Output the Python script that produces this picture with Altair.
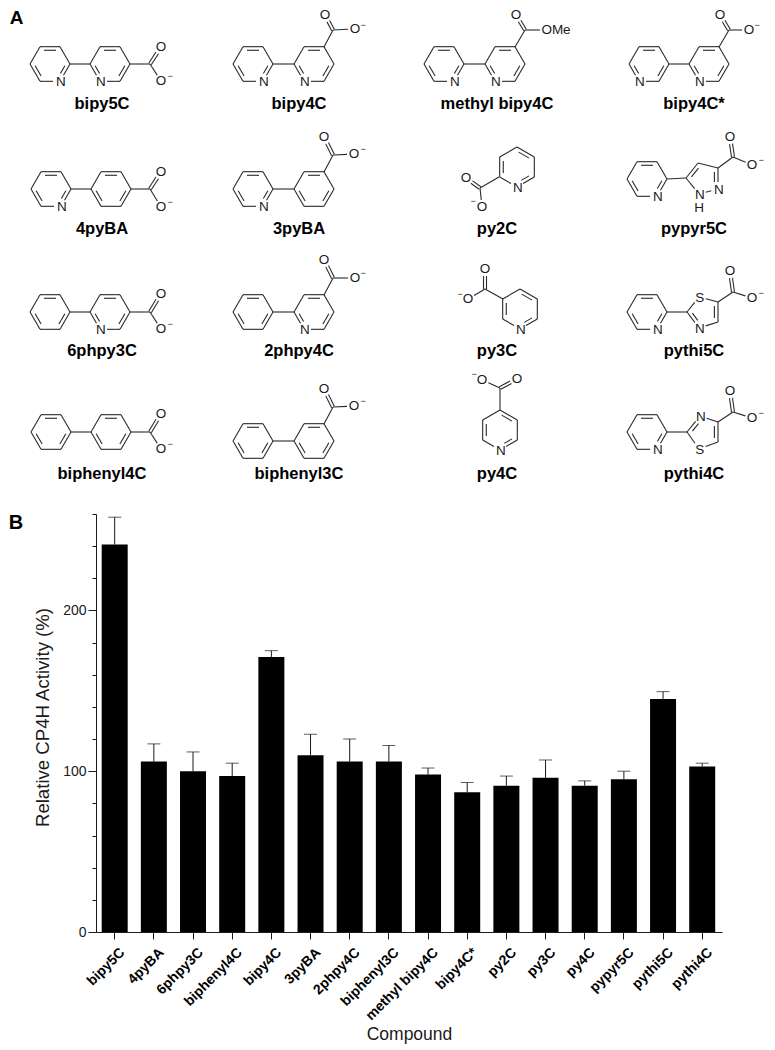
import math
import altair as alt
import pandas as pd

compounds = ["bipy5C", "4pyBA", "6phpy3C", "biphenyl4C", "bipy4C", "3pyBA", "2phpy4C", "biphenyl3C",
             "methyl bipy4C", "bipy4C*", "py2C", "py3C", "py4C", "pypyr5C", "pythi5C", "pythi4C"]
activity = [241, 106, 100, 97, 171, 110, 106, 106, 98, 87, 91, 96, 91, 95, 145, 103]
err_top = [258, 117, 112, 105, 175, 123, 120, 116, 102, 93, 97, 107, 94, 100, 149.5, 105]

FONT = "Liberation Sans"
INK = "#1a1a1a"
R = 20.0

# structure layouts: hexagons (cx, cy, hetero vertex or None, rotation)
hexes = [
    (50, 64, 1, 0), (110, 64, 2, 0), (253, 64, 1, 0), (314, 64, 2, 0),
    (444, 64, 1, 0), (505, 64, 2, 0), (649, 64, 2, 0), (709, 64, 2, 0),
    (51, 189, 1, 0), (111, 189, None, 0), (253, 189, 1, 0), (314, 189, None, 0),
    (517, 167, 1, 30), (647, 179, 1, 0),
    (50, 312, None, 0), (110, 312, 2, 0), (253, 312, None, 0), (314, 312, 2, 0),
    (520, 309, 1, 30), (647, 312, 1, 0),
    (51, 432, None, 0), (111, 432, None, 0), (253, 441, None, 0), (314, 441, None, 0),
    (500, 430, 1, 30), (647, 432, 1, 0),
]
# five-membered rings: vertices, double-bond start indices, hetero labels {index: text}
pentas = [
    ([(686, 178), (698, 163), (718, 168), (718, 189), (699, 194)], [0, 2], {3: "N", 4: "N"}),
    ([(687, 312), (699, 297), (718, 302), (718, 322), (699, 328)], [2, 4], {1: "S", 4: "N"}),
    ([(687, 432), (700, 416), (718, 422), (718, 442), (699, 449)], [0, 2], {1: "N", 4: "S"}),
]
# single bonds between rings and from a ring to a carboxyl carbon
links = [
    (70, 64, 90, 64), (273, 64, 294, 64), (464, 64, 485, 64), (669, 64, 689, 64),
    (71, 189, 91, 189), (273, 189, 294, 189), (667, 179, 686, 178),
    (70, 312, 90, 312), (273, 312, 294, 312), (667, 312, 687, 312),
    (71, 432, 91, 432), (273, 441, 294, 441), (667, 432, 687, 432),
    (130, 64, 150, 64), (324, 47, 333, 30), (515, 47, 525, 30), (719, 47, 729, 30),
    (131, 189, 150, 189), (324, 172, 333, 155), (499, 177, 480, 188), (718, 168, 733, 157),
    (130, 312, 150, 312), (324, 295, 333, 278), (503, 299, 485, 289), (718, 302, 733, 292),
    (131, 432, 150, 432), (324, 424, 333, 407), (500, 410, 500, 388), (718, 422, 733, 412),
]
# carboxyl groups: C, =O, -O, minus sign, second-oxygen text
carboxyls = [
    (150, 64, 161, 47, 161, 81, 170, 76), (333, 30, 325, 15, 355, 29, 363, 25),
    (525, 30, 516, 15, 541, 30, None, None), (729, 30, 720, 15, 749, 30, 757, 25),
    (150, 189, 161, 172, 161, 207, 170, 202), (333, 155, 324, 137, 354, 154, 363, 149),
    (480, 188, 466, 178, 482, 207, 473, 201), (733, 157, 730, 137, 752, 165, 761, 160),
    (150, 312, 161, 294, 161, 329, 170, 324), (333, 278, 324, 260, 355, 278, 363, 273),
    (485, 289, 485, 269, 468, 299, 460, 294), (733, 292, 730, 271, 752, 298, 761, 293),
    (150, 432, 161, 414, 161, 449, 170, 444), (333, 407, 324, 389, 354, 406, 363, 401),
    (500, 388, 517, 379, 482, 380, 474, 374), (733, 412, 730, 391, 752, 418, 761, 413),
]
name_x = [102, 299, 497, 694]
name_y = [104, 229, 351, 474]
name_grid = [["bipy5C", "bipy4C", "methyl bipy4C", "bipy4C*"],
             ["4pyBA", "3pyBA", "py2C", "pypyr5C"],
             ["6phpy3C", "2phpy4C", "py3C", "pythi5C"],
             ["biphenyl4C", "biphenyl3C", "py4C", "pythi4C"]]

segs, atoms, minus = [], [], []


def trim(ax, ay, bx, by, ta, tb):
    d = math.hypot(bx - ax, by - ay)
    ux, uy = (bx - ax) / d, (by - ay) / d
    return ax + ux * ta, ay + uy * ta, bx - ux * tb, by - uy * tb


def add(ax, ay, bx, by):
    segs.append({"x": ax, "y": ay, "x2": bx, "y2": by})


def ring(verts, doubles, hetero):
    n = len(verts)
    cx = sum(v[0] for v in verts) / n
    cy = sum(v[1] for v in verts) / n
    for i in range(n):
        j = (i + 1) % n
        a, b = verts[i], verts[j]
        ta = 7 if i in hetero else 0
        tb = 7 if j in hetero else 0
        add(*trim(a[0], a[1], b[0], b[1], ta, tb))
        if i in doubles:
            mx, my = (a[0] + b[0]) / 2, (a[1] + b[1]) / 2
            d = math.hypot(cx - mx, cy - my)
            ox, oy = (cx - mx) / d * 3.6, (cy - my) / d * 3.6
            add(*trim(a[0] + ox, a[1] + oy, b[0] + ox, b[1] + oy, max(ta, 4), max(tb, 4)))
    for k, t in hetero.items():
        atoms.append({"x": verts[k][0] + 0.8, "y": verts[k][1] + 0.5, "t": t})


for cx, cy, het, rot in hexes:
    vs = [(cx + R * math.cos(math.radians(rot + 60 * k)), cy + R * math.sin(math.radians(rot + 60 * k)))
          for k in range(6)]
    ring(vs, [0, 2, 4], {het: "N"} if het is not None else {})
for vs, dbl, het in pentas:
    ring(vs, dbl, het)
atoms.append({"x": 699, "y": 208, "t": "H"})
for l in links:
    add(*l)
for cx, cy, ox, oy, mx, my, nx, ny in carboxyls:
    x1, y1, x2, y2 = trim(cx, cy, ox, oy, 0, 7)
    d = math.hypot(x2 - x1, y2 - y1)
    px, py = -(y2 - y1) / d * 1.5, (x2 - x1) / d * 1.5
    add(x1 + px, y1 + py, x2 + px, y2 + py)
    add(x1 - px, y1 - py, x2 - px, y2 - py)
    atoms.append({"x": ox, "y": oy, "t": "O"})
    if nx is None:
        add(*trim(cx, cy, mx, my, 0, 1))
        atoms.append({"x": mx + 15, "y": my, "t": "OMe"})
    else:
        add(*trim(cx, cy, mx, my, 0, 7))
        atoms.append({"x": mx, "y": my, "t": "O"})
        minus.append({"x": nx, "y": ny, "t": "\u2212"})
segs_df = pd.DataFrame(segs)
atoms_df = pd.DataFrame(atoms)
minus_df = pd.DataFrame(minus)
names_df = pd.DataFrame([{"x": name_x[c], "y": name_y[r], "t": name_grid[r][c]}
                         for r in range(4) for c in range(4)])
letter_df = pd.DataFrame([{"x": 16.5, "y": 17.5, "t": "A"}])

px_x = alt.Scale(domain=[96, 722], nice=False, zero=False)
px_y = alt.Scale(domain=[505, 8], nice=False, zero=False)
X = alt.X("x:Q", scale=px_x, axis=None)
Y = alt.Y("y:Q", scale=px_y, axis=None)

bonds = alt.Chart(segs_df).mark_rule(color="#2a2a2a", strokeWidth=1.1).encode(x=X, y=Y, x2="x2:Q", y2="y2:Q")
atom_text = alt.Chart(atoms_df).mark_text(font=FONT, fontSize=13.5, color=INK, baseline="middle").encode(
    x=X, y=Y, text="t:N")
minus_text = alt.Chart(minus_df).mark_text(font=FONT, fontSize=9, color=INK, baseline="middle").encode(
    x=X, y=Y, text="t:N")
name_text = alt.Chart(names_df).mark_text(font=FONT, fontSize=16.5, fontWeight="bold", color="black",
                                          baseline="middle").encode(x=X, y=Y, text="t:N")
letter = alt.Chart(letter_df).mark_text(font=FONT, fontSize=19, fontWeight="bold", color="black",
                                        baseline="middle").encode(x=X, y=Y, text="t:N")
top = alt.layer(bonds, atom_text, minus_text, name_text, letter).properties(width=626, height=497)

bar_df = pd.DataFrame({"name": compounds, "val": activity, "err": err_top})
bx = alt.X("name:N", sort=compounds, title="Compound",
           scale=alt.Scale(paddingInner=0.336, paddingOuter=0.159, align=0.456),
           axis=alt.Axis(labelAngle=-45, labelAlign="right", labelBaseline="middle", labelFont=FONT,
                         labelFontWeight="bold", labelFontSize=14, labelColor="black", labelPadding=11,
                         labelOffset=8, tickSize=7, tickColor=INK, domainColor=INK, titleFont=FONT,
                         titleFontSize=17.5, titleFontWeight="normal", titleColor=INK, titlePadding=3,
                         grid=False, labelOverlap=False))
by_scale = alt.Scale(domain=[0, 260], nice=False)
bars = alt.Chart(bar_df).mark_bar(color="black", width=26).encode(
    x=bx,
    y=alt.Y("val:Q", scale=by_scale, title="Relative CP4H Activity (%)",
            axis=alt.Axis(orient="left", values=[0, 100, 200], tickSize=8, tickColor=INK, domainColor=INK,
                          grid=False, labelFont=FONT, labelFontSize=14, labelColor=INK, labelPadding=2,
                          titleFont=FONT, titleFontSize=18.6, titleFontWeight="normal", titleColor=INK,
                          titlePadding=10, titleLimit=400, titleY=203)))
minor = alt.Chart(bar_df).mark_point(opacity=0).encode(
    x=bx,
    y=alt.Y("val:Q", scale=by_scale, title=None,
            axis=alt.Axis(orient="left", values=list(range(0, 261, 20)), tickSize=4, tickColor=INK,
                          labels=False, domain=False, grid=False)))
stems = alt.Chart(bar_df).mark_rule(color=INK, strokeWidth=1).encode(
    x=bx, y=alt.Y("val:Q", scale=by_scale, axis=None), y2="err:Q")
caps = alt.Chart(bar_df).mark_tick(color=INK, size=13, thickness=1, orient="horizontal").encode(
    x=bx, y=alt.Y("err:Q", scale=by_scale, axis=None))
b_label = alt.Chart(pd.DataFrame({"t": ["B"]})).mark_text(
    font=FONT, fontSize=20, fontWeight="bold", color="black", baseline="middle").encode(
    x=alt.value(-80), y=alt.value(9), text="t:N")
bottom = alt.layer(stems, caps, bars, minor, b_label).resolve_axis(y="independent").properties(
    width=626, height=418)

chart = alt.vconcat(top, bottom, spacing=8).properties(padding=0).configure_view(stroke=None)
chart.save("out.html", embed_options={"renderer": "svg", "actions": False})
